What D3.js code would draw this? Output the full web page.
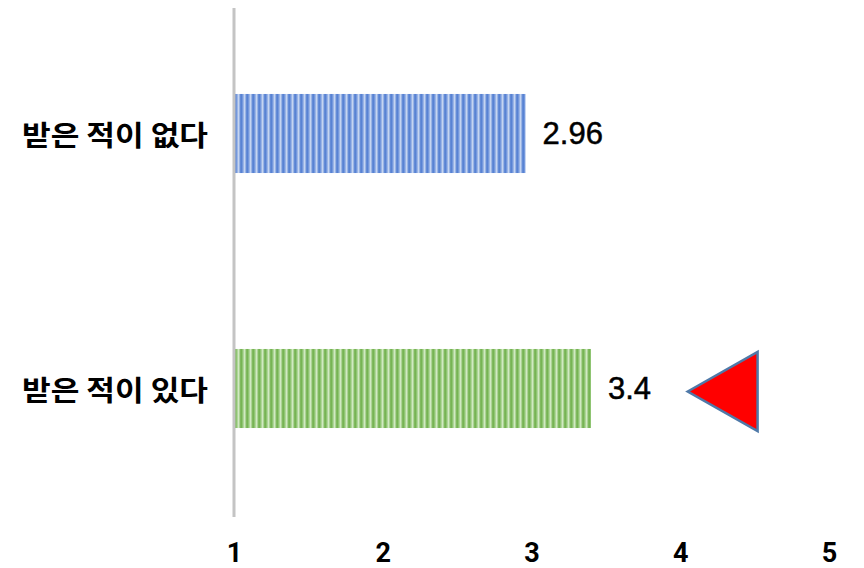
<!DOCTYPE html>
<html><head><meta charset="utf-8">
<script src="https://cdn.jsdelivr.net/npm/d3@7"></script>
<style>body{margin:0;background:#fff}svg{display:block}</style>
</head><body>
<svg id="c" width="864" height="568"></svg>
<script>
const categories = ["받은 적이 없다", "받은 적이 있다"];
const values = [2.96, 3.4];
const valueLabels = ["2.96", "3.4"];
const tickValues = [1, 2, 3, 4, 5];
const markerRange = [4.05, 4.52]; // triangle tip and base, in axis units
const markerCategory = "받은 적이 있다";

const palettes = [
  {dark: "#4a78cf", mid: "#7c9edf", light: "#c9d8f2"},
  {dark: "#6aac44", mid: "#96c97b", light: "#d4ebc6"}
];

const svg = d3.select("#c");
const x = d3.scaleLinear().domain([1, 5]).range([234, 829]);
const y = d3.scaleBand().domain(categories).range([6, 516]).paddingInner(0.69).paddingOuter(0.345);

const defs = svg.append("defs");
palettes.forEach((p, i) => {
  const g = defs.append("linearGradient").attr("id", "g" + i)
    .attr("x1", 0).attr("x2", 1).attr("y1", 0).attr("y2", 0);
  g.append("stop").attr("offset", 0).attr("stop-color", p.dark);
  g.append("stop").attr("offset", 0.3).attr("stop-color", p.mid);
  g.append("stop").attr("offset", 0.6).attr("stop-color", p.light);
  g.append("stop").attr("offset", 1).attr("stop-color", p.dark);
  const pat = defs.append("pattern").attr("id", "p" + i)
    .attr("patternUnits", "userSpaceOnUse").attr("x", x(1) + 1).attr("y", 0)
    .attr("width", 6).attr("height", 600);
  pat.append("rect").attr("width", 6).attr("height", 600).attr("fill", "url(#g" + i + ")");
});

// bars
svg.selectAll("rect.bar").data(values).join("rect").attr("class", "bar")
  .attr("x", x(1) + 1)
  .attr("y", (d, i) => y(categories[i]))
  .attr("width", d => x(d) - x(1) - 1)
  .attr("height", y.bandwidth())
  .attr("fill", (d, i) => "url(#p" + i + ")");

// vertical axis line
svg.append("line").attr("x1", x(1)).attr("x2", x(1)).attr("y1", 8).attr("y2", 517)
  .attr("stroke", "#c4c4c4").attr("stroke-width", 3);

// category labels
svg.selectAll("text.cat").data(categories).join("text").attr("class", "cat")
  .attr("x", 22).attr("y", d => y(d) + y.bandwidth() / 2)
  .attr("dominant-baseline", "central")
  .attr("textLength", 186).attr("lengthAdjust", "spacingAndGlyphs")
  .attr("font-family", "'Noto Sans CJK KR', sans-serif").attr("font-weight", 700)
  .attr("font-size", 28).attr("fill", "#000").text(d => d);

// value labels
svg.selectAll("text.val").data(values).join("text").attr("class", "val")
  .attr("x", d => x(d) + 17).attr("y", (d, i) => y(categories[i]) + y.bandwidth() / 2)
  .attr("dominant-baseline", "central")
  .attr("font-family", "'Liberation Sans', Arial, sans-serif")
  .attr("font-size", 31).attr("stroke", "#000").attr("stroke-width", 0.5)
  .attr("fill", "#000").text((d, i) => valueLabels[i]);

// x axis tick labels
const axis = d3.axisBottom(x).tickValues(tickValues).tickSize(0).tickFormat(d3.format("d"));
const ax = svg.append("g").attr("transform", "translate(0,536)").call(axis);
ax.select(".domain").remove();
ax.selectAll("text").attr("font-family", "Roboto, sans-serif").attr("font-weight", 700)
  .attr("font-size", 27).attr("fill", "#000").attr("dy", "0.71em").attr("y", 7);

// triangle marker
const cy = y(markerCategory) + y.bandwidth() / 2 + 3;
const h = y.bandwidth() / 2;
svg.append("path")
  .attr("d", d3.line()([[x(markerRange[0]), cy], [x(markerRange[1]), cy - h], [x(markerRange[1]), cy + h]]) + "Z")
  .attr("fill", "#ff0000").attr("stroke", "#4f79a8").attr("stroke-width", 2.5).attr("stroke-linejoin", "miter");
</script>
</body></html>
